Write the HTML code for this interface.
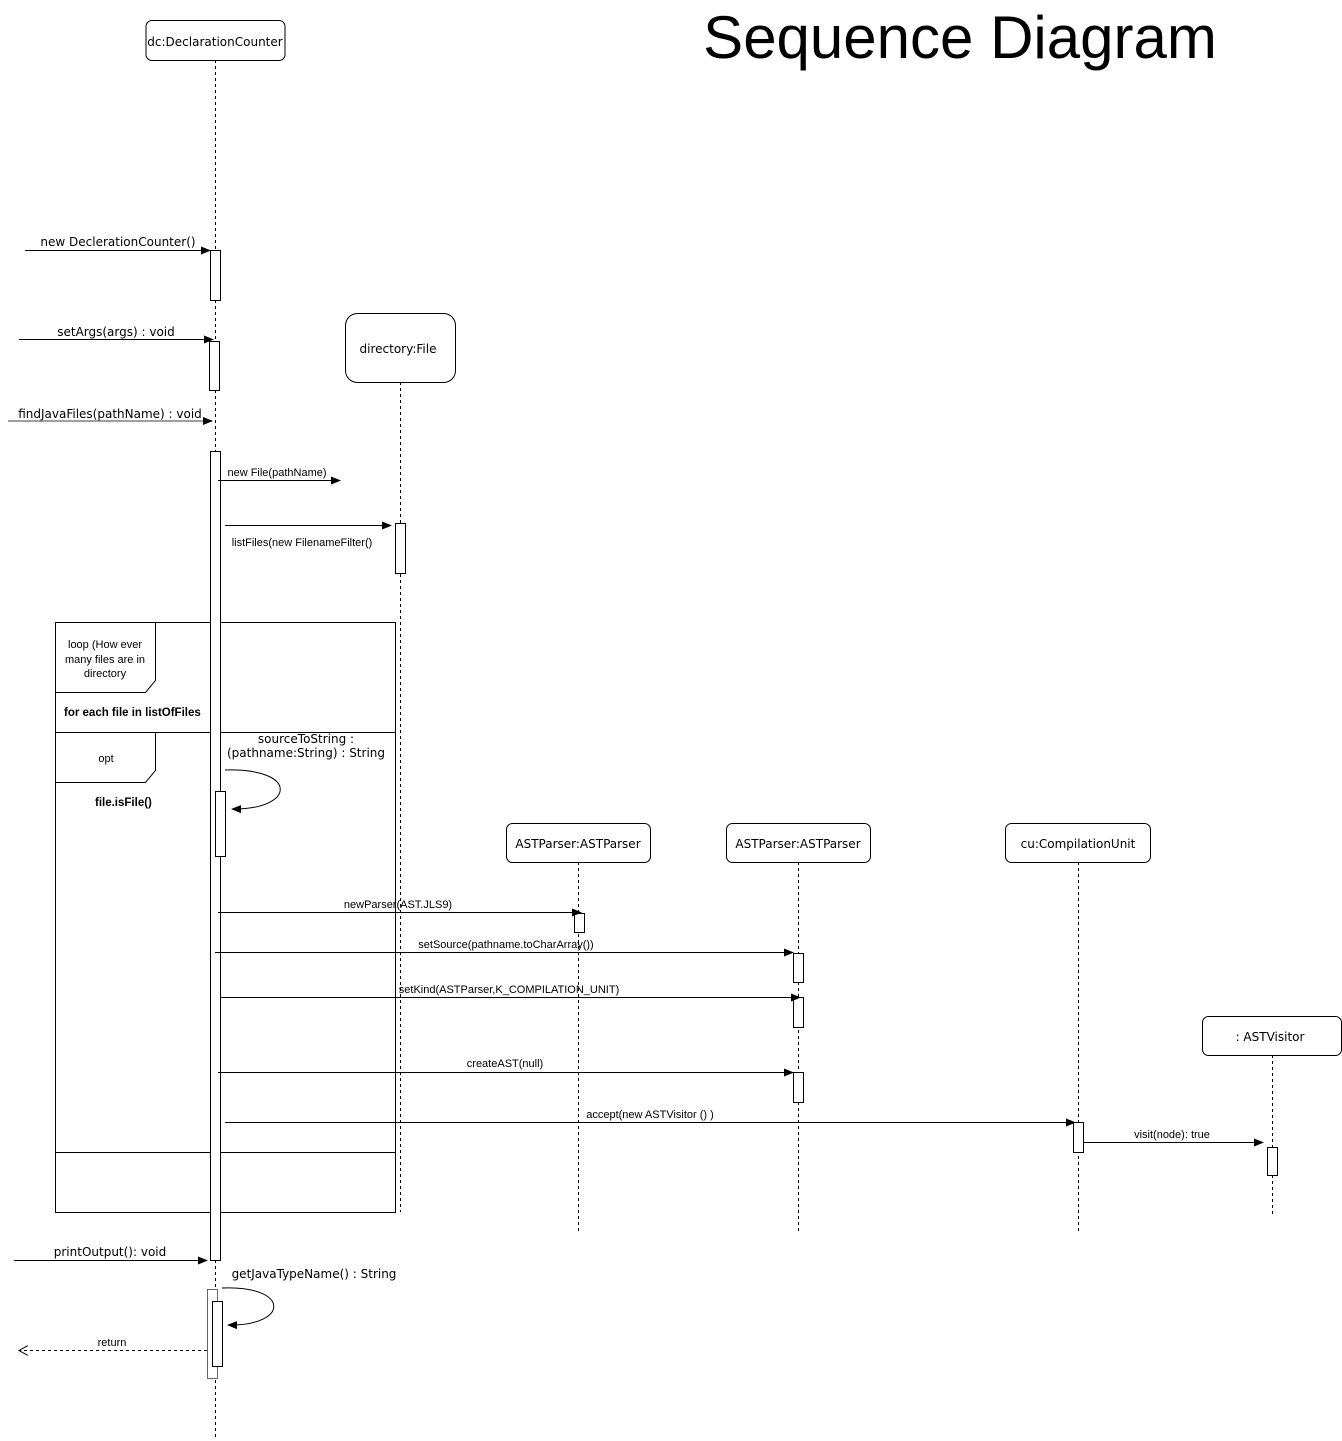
<!DOCTYPE html>
<html><head><style>body{margin:0;background:#fff}svg{display:block}text{font-family:"Liberation Sans",sans-serif;fill:#000}.dj{font-family:"DejaVu Sans",sans-serif}</style></head><body>
<svg width="1342" height="1441" viewBox="0 0 1342 1441" xmlns="http://www.w3.org/2000/svg">
<defs>
<marker id="a" markerWidth="10" markerHeight="8" refX="9" refY="4" orient="auto" markerUnits="userSpaceOnUse"><path d="M0,0 L10,4 L0,8 Z" fill="#000"/></marker>
<marker id="o" markerWidth="10" markerHeight="10" refX="9" refY="5" orient="auto" markerUnits="userSpaceOnUse"><path d="M0,0 L9,5 L0,10" fill="none" stroke="#000"/></marker>
</defs>
<text x="960" y="58" font-size="60" text-anchor="middle">Sequence Diagram</text>
<g stroke="#000" stroke-dasharray="3,3" fill="none">
<line x1="215.5" y1="60" x2="215.5" y2="1440"/>
<line x1="400.5" y1="382" x2="400.5" y2="1212"/>
<line x1="578.5" y1="862" x2="578.5" y2="1232"/>
<line x1="798.5" y1="862" x2="798.5" y2="1232"/>
<line x1="1078.5" y1="862" x2="1078.5" y2="1232"/>
<line x1="1272.5" y1="1055" x2="1272.5" y2="1215"/>
</g>
<g stroke="#000" fill="#fff">
<rect x="146" y="20.5" width="139" height="40" rx="6"/>
<rect x="345.5" y="313.5" width="110" height="69" rx="12"/>
<rect x="506.5" y="823.5" width="144" height="39" rx="6"/>
<rect x="726.5" y="823.5" width="144" height="39" rx="6"/>
<rect x="1005.5" y="823.5" width="145" height="39" rx="6"/>
<rect x="1202.5" y="1016.5" width="139" height="39" rx="6"/>
</g>
<g font-size="12" text-anchor="middle" class="dj">
<text x="215" y="46" class="dj">dc:DeclarationCounter</text>
<text x="398" y="353" class="dj">directory:File</text>
<text x="578" y="848" class="dj">ASTParser:ASTParser</text>
<text x="798" y="848" class="dj">ASTParser:ASTParser</text>
<text x="1078" y="848" class="dj">cu:CompilationUnit</text>
<text x="1270" y="1041" class="dj">: ASTVisitor</text>
</g>
<g stroke="#000" fill="none">
<rect x="55.5" y="622.5" width="340" height="590"/>
<path d="M55.5,692.5 H145.5 L155.5,680.5 V622.5"/>
<line x1="55" y1="732.5" x2="395" y2="732.5"/>
<path d="M55.5,782.5 H145.5 L155.5,770.5 V732.5"/>
<line x1="55" y1="1152.5" x2="395" y2="1152.5"/>
</g>
<g font-size="11" text-anchor="middle">
<text x="105" y="648">loop (How ever</text>
<text x="105" y="663">many files are in</text>
<text x="105" y="677">directory</text>
<text x="106" y="762">opt</text>
</g>
<text x="64" y="716" font-size="11.5" font-weight="bold">for each file in listOfFiles</text>
<text x="95" y="806" font-size="11.5" font-weight="bold">file.isFile()</text>
<g stroke="#000" fill="#fff">
<rect x="210.5" y="250.5" width="10" height="50"/>
<rect x="209.5" y="341.5" width="10" height="49"/>
<rect x="210.5" y="451.5" width="10" height="809"/>
<rect x="215.5" y="791.5" width="10" height="65"/>
<rect x="395.5" y="523.5" width="10" height="50"/>
<rect x="574.5" y="913.5" width="10" height="19"/>
<rect x="793.5" y="953.5" width="10" height="29"/>
<rect x="793.5" y="997.5" width="10" height="30"/>
<rect x="793.5" y="1072.5" width="10" height="30"/>
<rect x="1073.5" y="1122.5" width="10" height="30"/>
<rect x="1267.5" y="1147.5" width="10" height="28"/>
<rect x="207.5" y="1289.5" width="10" height="89" stroke="#666"/>
<rect x="212.5" y="1301.5" width="10" height="65"/>
</g>
<g stroke="#000" fill="none">
<line x1="25" y1="250.5" x2="210" y2="250.5" marker-end="url(#a)"/>
<line x1="19" y1="339.5" x2="213" y2="339.5" marker-end="url(#a)"/>
<line x1="8" y1="421" x2="212" y2="421" stroke="#666" stroke-width="1.3" marker-end="url(#a)"/>
<line x1="218" y1="480.5" x2="340" y2="480.5" marker-end="url(#a)"/>
<line x1="225" y1="525.5" x2="391" y2="525.5" marker-end="url(#a)"/>
<path d="M225,770 C300,768 295,810 232,809" marker-end="url(#a)"/>
<line x1="218" y1="912.5" x2="581" y2="912.5" marker-end="url(#a)"/>
<line x1="215" y1="952.5" x2="793" y2="952.5" marker-end="url(#a)"/>
<line x1="220" y1="997.5" x2="800" y2="997.5" marker-end="url(#a)"/>
<line x1="218" y1="1072.5" x2="793" y2="1072.5" marker-end="url(#a)"/>
<line x1="225" y1="1122.5" x2="1075" y2="1122.5" marker-end="url(#a)"/>
<line x1="1083" y1="1142.5" x2="1263" y2="1142.5" marker-end="url(#a)"/>
<line x1="14" y1="1260.5" x2="207" y2="1260.5" marker-end="url(#a)"/>
<path d="M222,1288 C290,1285 290,1326 228,1325" marker-end="url(#a)"/>
<line x1="207" y1="1350.5" x2="19" y2="1350.5" stroke-dasharray="3,3" marker-end="url(#o)"/>
</g>
<g font-size="12" text-anchor="middle" class="dj">
<text x="118" y="246" class="dj">new DeclerationCounter()</text>
<text x="116" y="336" class="dj">setArgs(args) : void</text>
<text x="110" y="418" class="dj">findJavaFiles(pathName) : void</text>
<text x="306" y="743" class="dj">sourceToString :</text>
<text x="306" y="757" class="dj">(pathname:String) : String</text>
<text x="110" y="1256" class="dj">printOutput(): void</text>
<text x="314" y="1278" class="dj">getJavaTypeName() : String</text>
</g>
<g font-size="11" text-anchor="middle">
<text x="277" y="476">new File(pathName)</text>
<text x="302" y="546">listFiles(new FilenameFilter()</text>
<text x="398" y="908">newParser(AST.JLS9)</text>
<text x="506" y="948">setSource(pathname.toCharArray())</text>
<text x="509" y="993">setKind(ASTParser,K_COMPILATION_UNIT)</text>
<text x="505" y="1067">createAST(null)</text>
<text x="650" y="1118">accept(new ASTVisitor () )</text>
<text x="1172" y="1138">visit(node): true</text>
<text x="112" y="1346">return</text>
</g>
</svg>
</body></html>
